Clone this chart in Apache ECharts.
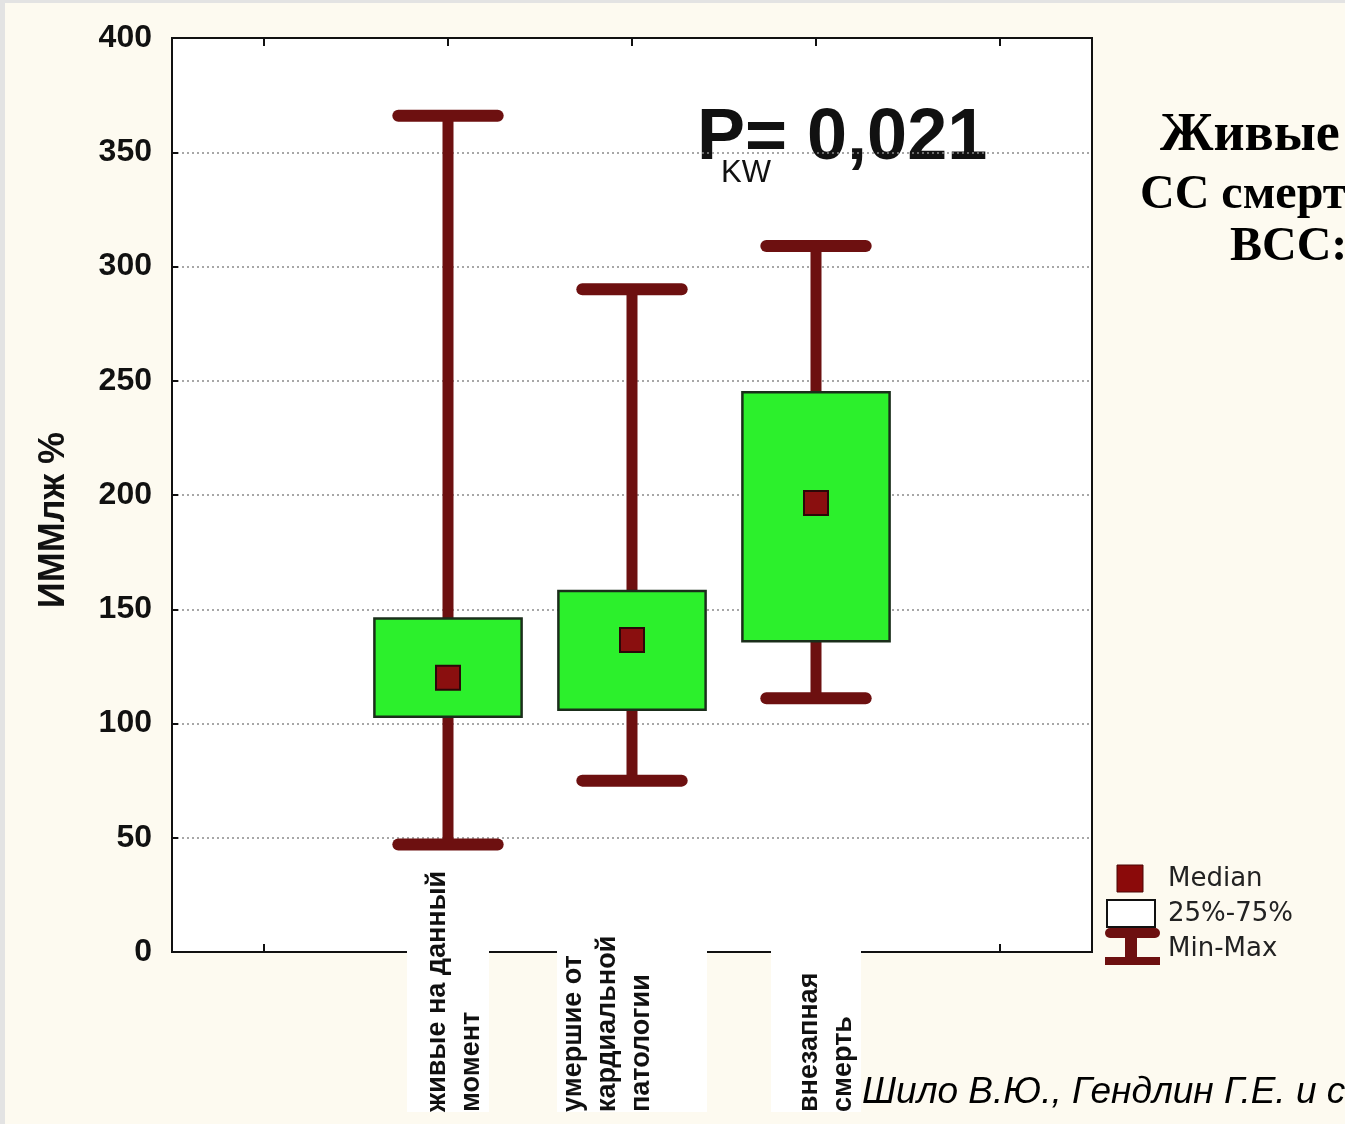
<!DOCTYPE html>
<html>
<head>
<meta charset="utf-8">
<script src="https://cdn.jsdelivr.net/npm/echarts@6/dist/echarts.min.js"></script>
<style>
html,body{margin:0;padding:0;background:#fdfaf0;}
#c{width:1345px;height:1124px;}
</style>
</head>
<body>
<div id="c"></div>
<script>
// ---- data ----
const categories = ['', 'живые на данный\nмомент', 'умершие от\nкардиальной\nпатологии', 'внезапная\nсмерть', ''];
const minValues    = [null, 47, 75, 111, null];
const q1Values     = [null, 103, 106, 136, null];
const medianValues = [null, 120, 136.5, 196.5, null];
const q3Values     = [null, 146, 158, 245, null];
const maxValues    = [null, 366, 290, 309, null];
const yTicks = { min: 0, max: 400, interval: 50 };
const yAxisTitle = 'ИММлж %';
const statText = 'P= 0,021';
const statSub = 'KW';
const legendLabels = ['Median', '25%-75%', 'Min-Max'];
const sideLines = ['Живые', 'СС смерть', 'ВСС:'];
const citation = 'Шило В.Ю., Гендлин Г.Е. и соавт.';

// ---- styles ----
const WHISKER = '#6d1010';
const BOX_FILL = '#2cf02c';
const BOX_BORDER = '#1a2e1a';
const MED_FILL = '#8a0f0f';
const MED_BORDER = '#2a0808';
const SANS = '"Liberation Sans", Arial, sans-serif';
const SERIF = '"Liberation Serif", "Times New Roman", serif';

// label layout: [leading gap, trailing gap] (screen-left / screen-right shift), background padding
const labelGaps = [[0, 0], [14, 0], [0, 48], [22, 0], [0, 0]];
const labelPads = [null, [0, 8, 0, 0], [0, 8, 0, 0], [0, 30, 0, 0], null];
const xData = categories.map((c, i) => ({
  value: c,
  textStyle: labelPads[i]
    ? { padding: labelPads[i], backgroundColor: '#ffffff', align: 'left', verticalAlign: 'middle' }
    : { backgroundColor: 'transparent', align: 'left', verticalAlign: 'middle' }
}));
function labelFormatter(value, index) {
  if (!value) return '';
  const g = labelGaps[index] || [0, 0];
  const parts = value.split('\n').map(s => '{t|' + s + '}');
  if (g[0]) parts.unshift('{g' + g[0] + '| }');
  if (g[1]) parts.push('{g' + g[1] + '| }');
  return parts.join('\n');
}
const labelRich = {
  t: { fontFamily: SANS, fontSize: 27, fontWeight: 'bold', lineHeight: 34, color: '#111' },
  g14: { fontSize: 10, lineHeight: 14 },
  g22: { fontSize: 10, lineHeight: 22 },
  g48: { fontSize: 10, lineHeight: 48 }
};

const whiskerData = [], boxData = [], medianData = [];
categories.forEach((c, i) => {
  if (minValues[i] != null) {
    whiskerData.push([i, minValues[i], maxValues[i]]);
    boxData.push([i, q1Values[i], q3Values[i]]);
    medianData.push([i, medianValues[i]]);
  }
});

function renderWhisker(params, api) {
  const x = api.value(0);
  const lo = api.coord([x, api.value(1)]);
  const hi = api.coord([x, api.value(2)]);
  const band = api.size([1, 0])[0];
  const half = band * 0.27;
  return {
    type: 'group',
    children: [
      { type: 'line', shape: { x1: lo[0], y1: lo[1], x2: hi[0], y2: hi[1] },
        style: { stroke: WHISKER, lineWidth: 11 } },
      { type: 'line', shape: { x1: hi[0] - half, y1: hi[1], x2: hi[0] + half, y2: hi[1] },
        style: { stroke: WHISKER, lineWidth: 12, lineCap: 'round' } },
      { type: 'line', shape: { x1: lo[0] - half, y1: lo[1], x2: lo[0] + half, y2: lo[1] },
        style: { stroke: WHISKER, lineWidth: 12, lineCap: 'round' } }
    ]
  };
}

function renderBox(params, api) {
  const x = api.value(0);
  const lo = api.coord([x, api.value(1)]);
  const hi = api.coord([x, api.value(2)]);
  const band = api.size([1, 0])[0];
  const w = band * 0.8;
  return {
    type: 'rect',
    shape: { x: lo[0] - w / 2, y: hi[1], width: w, height: lo[1] - hi[1] },
    style: { fill: BOX_FILL, stroke: BOX_BORDER, lineWidth: 2.5 }
  };
}

const chart = echarts.init(document.getElementById('c'));
chart.setOption({
  backgroundColor: '#fdfaf0',
  animation: false,
  grid: {
    left: 172, right: 253, top: 38, bottom: 172,
    containLabel: false, outerBoundsMode: 'none',
    show: true, backgroundColor: '#ffffff', borderColor: '#111', borderWidth: 2
  },
  xAxis: [{
    type: 'category',
    data: xData,
    position: 'bottom',
    axisLine: { lineStyle: { color: '#111', width: 2 } },
    axisTick: { show: true, inside: true, alignWithLabel: true, length: 8, lineStyle: { color: '#111', width: 2 } },
    axisLabel: {
      interval: 0, rotate: 90, align: 'left', verticalAlign: 'middle', margin: 160,
      fontFamily: SANS, fontSize: 27, fontWeight: 'bold', lineHeight: 34, color: '#111',
      formatter: labelFormatter, rich: labelRich
    },
    splitLine: { show: false }
  }, {
    type: 'category',
    data: categories,
    position: 'top',
    axisLine: { lineStyle: { color: '#111', width: 2 } },
    axisTick: { show: true, inside: true, alignWithLabel: true, length: 8, lineStyle: { color: '#111', width: 2 } },
    axisLabel: { show: false },
    splitLine: { show: false }
  }],
  yAxis: {
    type: 'value',
    min: yTicks.min, max: yTicks.max, interval: yTicks.interval,
    name: yAxisTitle, nameLocation: 'middle', nameGap: 100, nameRotate: 90,
    nameTextStyle: { fontFamily: SANS, fontSize: 36, fontWeight: 'bold', color: '#111', padding: [0, 50, 0, 0] },
    axisLine: { show: true, lineStyle: { color: '#111', width: 2 } },
    axisTick: { show: true, inside: true, length: 6, lineStyle: { color: '#111', width: 2 } },
    axisLabel: { fontFamily: SANS, fontSize: 32, fontWeight: 'bold', color: '#111', margin: 20 },
    splitLine: { show: true, lineStyle: { color: '#8a8a8a', width: 1.5, type: [2, 3] } }
  },
  series: [
    { name: 'Min-Max', type: 'custom', renderItem: renderWhisker, data: whiskerData,
      encode: { x: 0, y: [1, 2] }, z: 2 },
    { name: '25%-75%', type: 'custom', renderItem: renderBox, data: boxData,
      encode: { x: 0, y: [1, 2] }, z: 3 },
    { name: 'Median', type: 'scatter', data: medianData, symbol: 'rect', symbolSize: 24, z: 4,
      itemStyle: { color: MED_FILL, borderColor: MED_BORDER, borderWidth: 2, opacity: 1 } }
  ],
  graphic: [
    { type: 'rect', left: 0, top: 0, shape: { width: 5, height: 1124 }, style: { fill: '#e3e3e3' }, silent: true },
    { type: 'rect', left: 0, top: 0, shape: { width: 1345, height: 3 }, style: { fill: '#e3e3e3' }, silent: true },
    { type: 'text', x: 697, y: 139, style: { text: statText, font: 'bold 72px ' + SANS, fill: '#111',
      textAlign: 'left', textVerticalAlign: 'middle' } },
    { type: 'text', x: 721, y: 173, style: { text: statSub, font: '31px ' + SANS, fill: '#111',
      textAlign: 'left', textVerticalAlign: 'middle' } },
    { type: 'text', x: 1160, y: 136, style: { text: sideLines[0], font: 'bold 54px ' + SERIF, fill: '#000',
      textAlign: 'left', textVerticalAlign: 'middle' } },
    { type: 'text', x: 1140, y: 196, style: { text: sideLines[1], font: 'bold 48px ' + SERIF, fill: '#000',
      textAlign: 'left', textVerticalAlign: 'middle' } },
    { type: 'text', x: 1230, y: 248, style: { text: sideLines[2], font: 'bold 48px ' + SERIF, fill: '#000',
      textAlign: 'left', textVerticalAlign: 'middle' } },
    { type: 'text', x: 862, y: 1093, style: { text: citation, font: 'italic 37px ' + SANS, fill: '#000',
      textAlign: 'left', textVerticalAlign: 'middle' } },
    // legend
    { type: 'rect', shape: { x: 1117, y: 865, width: 26, height: 27 }, style: { fill: '#8b0a0a', stroke: '#4a0505', lineWidth: 1 } },
    { type: 'rect', shape: { x: 1107, y: 900, width: 48, height: 27 }, style: { fill: '#ffffff', stroke: '#111', lineWidth: 2 } },
    { type: 'line', shape: { x1: 1110, y1: 933, x2: 1155, y2: 933 }, style: { stroke: WHISKER, lineWidth: 10, lineCap: 'round' } },
    { type: 'rect', shape: { x: 1125, y: 936, width: 12, height: 24 }, style: { fill: WHISKER } },
    { type: 'rect', shape: { x: 1105, y: 957, width: 55, height: 8 }, style: { fill: WHISKER } },
    { type: 'text', x: 1168, y: 879, style: { text: legendLabels[0], font: '26px "DejaVu Sans", sans-serif', fill: '#222',
      textAlign: 'left', textVerticalAlign: 'middle' } },
    { type: 'text', x: 1168, y: 914, style: { text: legendLabels[1], font: '26px "DejaVu Sans", sans-serif', fill: '#222',
      textAlign: 'left', textVerticalAlign: 'middle' } },
    { type: 'text', x: 1168, y: 949, style: { text: legendLabels[2], font: '26px "DejaVu Sans", sans-serif', fill: '#222',
      textAlign: 'left', textVerticalAlign: 'middle' } }
  ]
});
</script>
</body>
</html>
